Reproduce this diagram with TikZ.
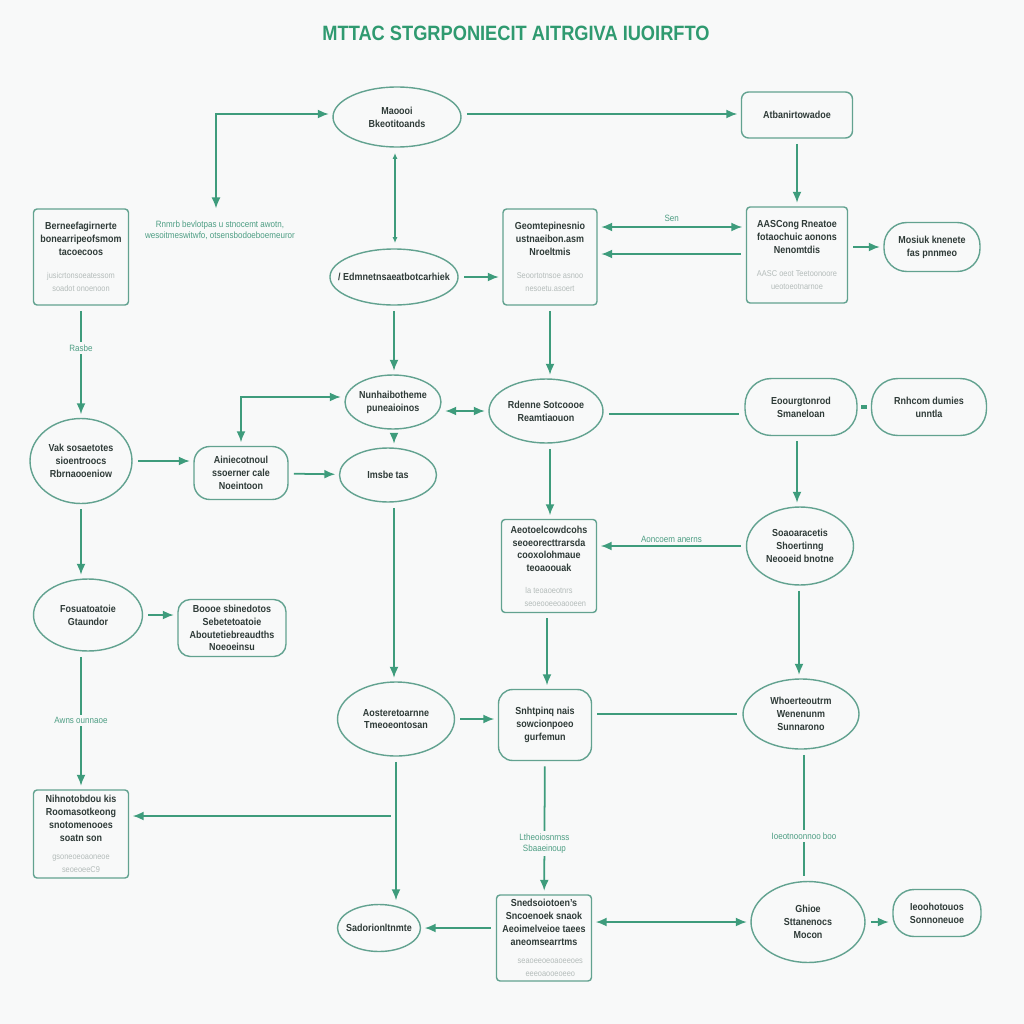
\documentclass[tikz,border=0pt]{standalone}
\usepackage{fontspec}
\setmainfont{Liberation Sans}[FakeStretch=0.88]
\usepackage{xcolor}
\usepackage{tikz}
\usetikzlibrary{arrows.meta,shapes.geometric}

\definecolor{bgc}{HTML}{F8F9F9}
\definecolor{edgegreen}{HTML}{3E9C7C}
\definecolor{rimgreen}{HTML}{62A290}
\definecolor{inkc}{HTML}{2F3B38}
\definecolor{fadec}{HTML}{B4BCBA}
\definecolor{lblgreen}{HTML}{4E9E84}
\definecolor{titlegreen}{HTML}{2F9A70}

\newcommand{\faint}{\color{fadec}\fontsize{4.8}{6}\selectfont\mdseries}

\begin{document}
\begin{tikzpicture}[
    x=0.02cm, y=-0.02cm,
    every node/.style={font=\fontsize{5.8}{7.3}\selectfont\bfseries, text=inkc, align=center},
    block/.style={rectangle, draw=rimgreen, line width=0.8pt, fill=bgc, rounded corners=2pt, inner sep=1pt},
    oval/.style={ellipse, draw=rimgreen, line width=0.8pt, fill=bgc, inner sep=0pt},
    pill/.style={rectangle, draw=rimgreen, line width=0.8pt, fill=bgc, inner sep=1pt},
    arrow/.style={-{Latex[length=2.2mm,width=1.8mm]}, line width=1pt, edgegreen, shorten >=2pt, shorten <=3pt},
    darrow/.style={{Latex[length=2.2mm,width=1.8mm]}-{Latex[length=2.2mm,width=1.8mm]}, line width=1pt, edgegreen, shorten >=2pt, shorten <=2pt},
    link/.style={line width=1pt, edgegreen, shorten >=3pt, shorten <=3pt},
    lbl/.style={font=\fontsize{5.2}{6.4}\selectfont, text=lblgreen, fill=bgc, inner sep=1.5pt}
  ]
    \useasboundingbox[fill=bgc] (0,0) rectangle (1024,1024);

    % --- TITLE ---
    \node[font=\fontsize{11.8}{13}\selectfont\bfseries, text=titlegreen] (title) at (516,33) {MTTAC STGRPONIECIT AITRGIVA IUOIRFTO};

    % --- TOP ROW ---
    \node[oval, minimum width=2.56cm, minimum height=1.2cm] (maoo) at (397,117) {Maoooi\\ Bkeotitoands};
    \node[block, rounded corners=4pt, minimum width=2.22cm, minimum height=0.92cm] (atban) at (797,115) {Atbanirtowadoe};
    \node[block, minimum width=1.9cm, minimum height=1.92cm] (bern) at (81,257) {Berneefagirnerte\\ bonearripeofsmom\\ tacoecoos\\[6pt] \faint jusicrtonsoeatessom\\ \faint soadot onoenoon};
    \node[lbl, fill=none, align=center] (note) at (220,230) {Rnmrb bevlotpas u stnocemt awotn,\\ wesoitmeswitwfo, otsensbodoeboemeuror};
    \node[oval, inner xsep=-6pt, minimum width=2.52cm, minimum height=1.12cm] (edmn) at (394,277) {/ Edmnetnsaeatbotcarhiek};
    \node[block, minimum width=1.88cm, minimum height=1.92cm] (geom) at (550,257) {Geomtepinesnio\\ ustnaeibon.asm\\ Nroeltmis\\[6pt] \faint Seoortotnsoe asnoo\\ \faint nesoetu.asoert};
    \node[block, minimum width=2.02cm, minimum height=1.92cm] (aasc) at (797,255) {AASCong Rneatoe\\ fotaochuic aonons\\ Nenomtdis\\[6pt] \faint AASC oeot Teetoonoore\\ \faint ueotoeotnarnoe};
    \node[pill, rounded corners=13pt, minimum width=1.92cm, minimum height=0.98cm] (mosi) at (932,247) {Mosiuk knenete\\ fas pnnmeo};

    % --- MIDDLE ROW ---
    \node[oval, inner xsep=-3pt, minimum width=1.92cm, minimum height=1.08cm] (nunh) at (393,402) {Nunhaibotheme\\ puneaioinos};
    \node[oval, inner xsep=-3pt, minimum width=2.28cm, minimum height=1.28cm] (rden) at (546,411) {Rdenne Sotcoooe\\ Reamtiaouon};
    \node[pill, rounded corners=15pt, minimum width=2.24cm, minimum height=1.14cm] (eour) at (801,407) {Eoourgtonrod\\ Smaneloan};
    \node[pill, rounded corners=15pt, minimum width=2.3cm, minimum height=1.14cm] (rnhc) at (929,407) {Rnhcom dumies\\ unntla};
    \node[oval, inner xsep=-3pt, minimum width=2.04cm, minimum height=1.7cm] (vaks) at (81,461) {Vak sosaetotes\\ sioentroocs\\ Rbrnaooeniow};
    \node[pill, rounded corners=9pt, minimum width=1.88cm, minimum height=1.06cm] (aini) at (241,473) {Ainiecotnoul\\ ssoerner cale\\ Noeintoon};
    \node[oval, minimum width=1.94cm, minimum height=1.08cm] (imsb) at (388,475) {Imsbe tas};
    \node[block, minimum width=1.9cm, minimum height=1.86cm] (aeot) at (549,566) {Aeotoelcowdcohs\\ seoeorecttrarsda\\ cooxolohmaue\\ teoaoouak\\[5pt] \faint la teoaoeotnrs\hspace{1.5em}\\ \faint\hspace{1.5em}seoeooeeoaooeen};
    \node[oval, inner xsep=-3pt, minimum width=2.14cm, minimum height=1.56cm] (soao) at (800,546) {Soaoaracetis\\ Shoertinng\\ Neooeid bnotne};
    \node[oval, inner xsep=-3pt, minimum width=2.18cm, minimum height=1.44cm] (fosu) at (88,615) {Fosuatoatoie\\ Gtaundor};
    \node[pill, rounded corners=7pt, minimum width=2.16cm, minimum height=1.14cm] (booo) at (232,628) {Boooe sbinedotos\\ Sebetetoatoie\\ Aboutetiebreaudths\\ Noeoeinsu};

    % --- BOTTOM ROW ---
    \node[oval, inner xsep=-4pt, minimum width=2.34cm, minimum height=1.48cm] (aost) at (396,719) {Aosteretoarnne\\ Tmeoeontosan};
    \node[pill, rounded corners=8pt, minimum width=1.86cm, minimum height=1.42cm] (snht) at (545,725) {Snhtpinq nais\\ sowcionpoeo\\ gurfemun};
    \node[oval, inner xsep=-3pt, minimum width=2.32cm, minimum height=1.4cm] (whoe) at (801,714) {Whoerteoutrm\\ Wenenunm\\ Sunnarono};
    \node[block, minimum width=1.9cm, minimum height=1.76cm] (nihn) at (81,834) {Nihnotobdou kis\\ Roomasotkeong\\ snotomenooes\\ soatn son\\[3pt] \faint gsoneoeoaoneoe\\ \faint seoeoeeC9};
    \node[oval, inner xsep=-5pt, minimum width=1.66cm, minimum height=0.94cm] (sado) at (379,928) {Sadorionltnmte};
    \node[block, minimum width=1.9cm, minimum height=1.72cm] (sned) at (544,938) {Snedsoiotoen's\\ Sncoenoek snaok\\ Aeoimelveioe taees\\ aneomsearrtms\\[3pt] \faint\hspace{1.5em}seaoeeoeoaoeeoes\\ \faint\hspace{1.5em}eeeoaooeoeeo};
    \node[oval, minimum width=2.28cm, minimum height=1.62cm] (ghio) at (808,922) {Ghioe\\ Sttanenocs\\ Mocon};
    \node[pill, rounded corners=12pt, minimum width=1.76cm, minimum height=0.94cm] (ieoo) at (937,913) {Ieoohotouos\\ Sonnoneuoe};

    % --- CONNECTORS, TOP ---
    \coordinate (drop) at (216,212);
    \draw[darrow] (drop) |- (maoo.west |- 0,114);
    \draw[arrow] (maoo.east |- 0,114) -- (atban.west |- 0,114);
    \draw[line width=1pt, edgegreen, {Latex[length=1.2mm,width=1mm]}-{Latex[length=1.2mm,width=1mm]}, shorten >=3pt, shorten <=3pt] (maoo.south -| 395,0) -- (edmn.north -| 395,0);
    \draw[arrow] (atban) -- (aasc);
    \draw[arrow] (edmn.east) -- (edmn.east -| geom.west);
    \draw[darrow] (geom.east |- 0,227) -- node[lbl, fill=none, above=1pt] {Sen} (aasc.west |- 0,227);
    \draw[arrow] (aasc.west |- 0,254) -- (geom.east |- 0,254);
    \draw[arrow] (aasc.east |- mosi.west) -- (mosi.west);

    % --- CONNECTORS, MIDDLE ---
    \draw[arrow] (bern) -- node[lbl, pos=0.38] {Rasbe} (vaks);
    \draw[arrow] (edmn.south -| 394,0) -- (nunh.north -| 394,0);
    \draw[arrow] (geom.south -| 550,0) -- (rden.north -| 550,0);
    \draw[darrow] (nunh.east |- rden.west) -- (rden.west);
    \draw[link] (rden.east |- 0,414) -- (eour.west |- 0,414);
    \draw[line width=2pt, edgegreen, shorten >=2pt, shorten <=2pt] (eour) -- (rnhc);
    \draw[darrow] (nunh.west |- 0,397) -| (aini.north);
    \draw[arrow] (nunh.south -| 394,0) -- (imsb.north -| 394,0);
    \draw[arrow] (vaks) -- (vaks -| aini.west);
    \draw[arrow] (aini) -- (imsb);
    \draw[arrow] (vaks.south) -- (vaks.south |- fosu.north);
    \draw[arrow] (eour.south -| 797,0) -- (soao.north -| 797,0);
    \draw[arrow] (soao.west) -- node[lbl, fill=none, above=0pt] {Aoncoem anerns} (soao.west -| aeot.east);
    \draw[arrow] (rden.south -| 550,0) -- (aeot.north -| 550,0);
    \draw[arrow] (fosu) -- (fosu -| booo.west);

    % --- CONNECTORS, BOTTOM ---
    \draw[arrow] (imsb.south -| 394,0) -- (aost.north -| 394,0);
    \draw[arrow] (aeot.south -| 547,0) -- (snht.north -| 547,0);
    \draw[arrow] (soao.south -| 799,0) -- (whoe.north -| 799,0);
    \draw[arrow] (aost) -- (aost -| snht.west);
    \draw[link] (whoe.west -| snht.east) -- (whoe.west);
    \draw[arrow] (vaks.south |- fosu.south) -- node[lbl] {Awns ounnaoe} (vaks.south |- nihn.north);
    \draw[arrow] (aost.south) -- (aost.south |- sado.north);
    \coordinate (fork) at (aost.south |- 0,816);
    \draw[arrow] (fork) -- (fork -| nihn.east);
    \draw[arrow] (snht) -- node[lbl, pos=0.62] {Ltheoiosnrnss\\ Sbaaeinoup} (sned);
    \draw[link] (whoe.south -| 804,0) -- node[lbl, pos=0.66] {Ioeotnoonnoo boo} (ghio.north -| 804,0);
    \draw[arrow] (sned.west |- sado.east) -- (sado.east);
    \draw[darrow] (sned.east |- ghio.west) -- (ghio.west);
    \draw[arrow] (ghio) -- (ghio -| ieoo.west);
  \end{tikzpicture}
\end{document}
